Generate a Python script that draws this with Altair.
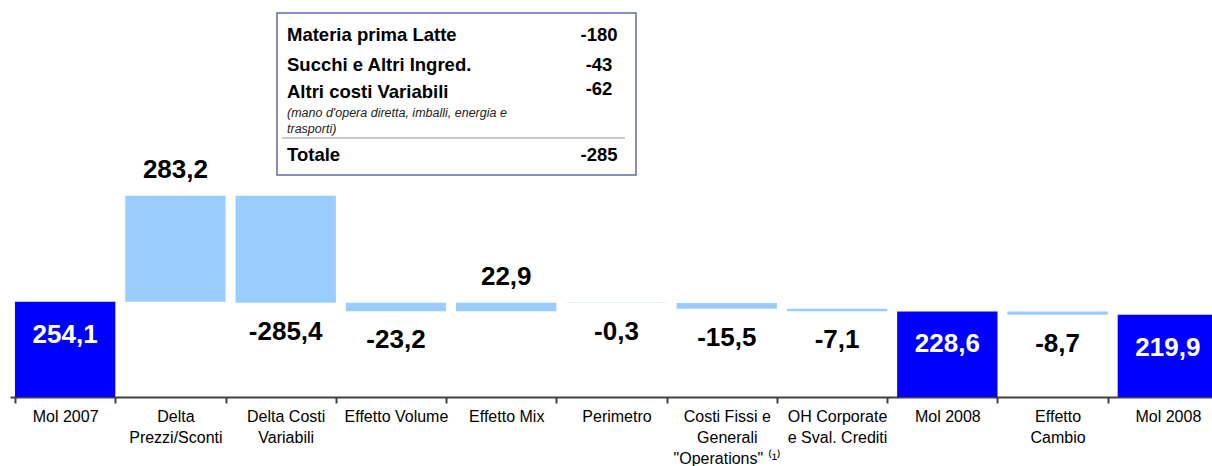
import altair as alt
import pandas as pd

# ---- data ----
categories = [
    "Mol 2007",
    "Delta|Prezzi/Sconti",
    "Delta Costi|Variabili",
    "Effetto Volume",
    "Effetto Mix",
    "Perimetro",
    "Costi Fissi e|Generali|\"Operations\" \u207d\u00b9\u207e",
    "OH Corporate|e Sval. Crediti",
    "Mol 2008",
    "Effetto|Cambio",
    "Mol 2008 ",
]
values = [254.1, 283.2, -285.4, -23.2, 22.9, -0.3, -15.5, -7.1, 228.6, -8.7, 219.9]
kinds = ["total", "delta", "delta", "delta", "delta", "delta", "delta", "delta",
         "total", "delta", "total"]

inset_items = ["Materia prima Latte", "Succhi e Altri Ingred.", "Altri costi Variabili"]
inset_values = [-180, -43, -62]
inset_note = ["(mano d'opera diretta, imballi, energia e", "trasporti)"]
inset_total_name = "Totale"
inset_total_value = -285

# ---- waterfall table ----
rows = []
running = 0.0
for c, v, k in zip(categories, values, kinds):
    if k == "total":
        lo, hi = 0.0, v
        running = v
    else:
        start, end = running, running + v
        lo, hi = min(start, end), max(start, end)
        running = end
    sign = "total" if k == "total" else ("pos" if v > 0 else "neg")
    rows.append({"cat": c, "value": v, "kind": k, "sign": sign, "lo": lo, "hi": hi,
                 "label": f"{v:.1f}".replace(".", ",")})
df = pd.DataFrame(rows)

FONT = "Liberation Sans"

xenc = alt.X(
    "cat:N", sort=categories, title=None,
    scale=alt.Scale(range=[10, 1223], paddingInner=0.09, paddingOuter=0.045),
    axis=alt.Axis(labelAngle=0, labelExpr="split(datum.label, '|')", labelFont=FONT,
                  labelFontSize=16, labelColor="black", labelLineHeight=21,
                  labelBaseline="top", labelPadding=5, labelLimit=0, labelOverlap=False,
                  tickBand="extent", tickSize=6, tickWidth=2, tickColor="#404040",
                  domainColor="#404040", domainWidth=2, grid=False),
)
yscale = alt.Scale(domain=[0, 1060], nice=False, zero=True)

base = alt.Chart(df)
bars = base.mark_bar().encode(
    x=xenc,
    y=alt.Y("lo:Q", scale=yscale, axis=None),
    y2="hi:Q",
    color=alt.Color("kind:N", scale=alt.Scale(domain=["total", "delta"],
                                              range=["#0000FF", "#99CCFF"]), legend=None),
)
txt_total = base.transform_filter("datum.sign == 'total'").mark_text(
    font=FONT, fontSize=26, fontWeight="bold", color="white", baseline="middle", dy=33
).encode(x=xenc, y=alt.Y("hi:Q", scale=yscale, axis=None), text="label:N")
txt_pos = base.transform_filter("datum.sign == 'pos'").mark_text(
    font=FONT, fontSize=26, fontWeight="bold", color="black", baseline="middle", dy=-26
).encode(x=xenc, y=alt.Y("hi:Q", scale=yscale, axis=None), text="label:N")
txt_neg = base.transform_filter("datum.sign == 'neg'").mark_text(
    font=FONT, fontSize=26, fontWeight="bold", color="black", baseline="middle", dy=29
).encode(x=xenc, y=alt.Y("lo:Q", scale=yscale, axis=None), text="label:N")

# ---- inset box ----
one = pd.DataFrame({"k": [0]})
box = alt.Chart(one).mark_rect(fill="white", stroke="#6666AA", strokeWidth=1.5).encode(
    x=alt.value(277), x2=alt.value(636), y=alt.value(13), y2=alt.value(175))
sep = alt.Chart(one).mark_rule(color="#C8C8C8", strokeWidth=2).encode(
    x=alt.value(282), x2=alt.value(625), y=alt.value(138))

inset_layers = [box, sep]
name_y = [35, 65, 92]
val_y = [35, 65, 89]
for i, (nm, vv) in enumerate(zip(inset_items, inset_values)):
    d = pd.DataFrame({"t": [nm], "v": [str(vv)]})
    inset_layers.append(alt.Chart(d).mark_text(
        font=FONT, fontSize=18.5, fontWeight="bold", align="left", baseline="middle", color="black"
    ).encode(x=alt.value(287), y=alt.value(name_y[i]), text="t:N"))
    inset_layers.append(alt.Chart(d).mark_text(
        font=FONT, fontSize=18.5, fontWeight="bold", align="center", baseline="middle", color="black"
    ).encode(x=alt.value(599), y=alt.value(val_y[i]), text="v:N"))
note_y = [113, 129]
for i, nt in enumerate(inset_note):
    d = pd.DataFrame({"t": [nt]})
    inset_layers.append(alt.Chart(d).mark_text(
        font=FONT, fontSize=12.5, fontStyle="italic", align="left", baseline="middle", color="#222222"
    ).encode(x=alt.value(287), y=alt.value(note_y[i]), text="t:N"))
dt = pd.DataFrame({"t": [inset_total_name], "v": [str(inset_total_value)]})
inset_layers.append(alt.Chart(dt).mark_text(
    font=FONT, fontSize=18.5, fontWeight="bold", align="left", baseline="middle", color="black"
).encode(x=alt.value(287), y=alt.value(155), text="t:N"))
inset_layers.append(alt.Chart(dt).mark_text(
    font=FONT, fontSize=18.5, fontWeight="bold", align="center", baseline="middle", color="black"
).encode(x=alt.value(599), y=alt.value(155), text="v:N"))

chart = alt.layer(bars, txt_total, txt_pos, txt_neg, *inset_layers).properties(
    width=1212, height=397,
    autosize=alt.AutoSizeParams(type="none"),
    padding={"left": 0, "top": 0, "right": 0, "bottom": 69},
    background="white",
).configure_view(stroke=None)

chart.save("out.html", embed_options={"renderer": "svg", "actions": False})
